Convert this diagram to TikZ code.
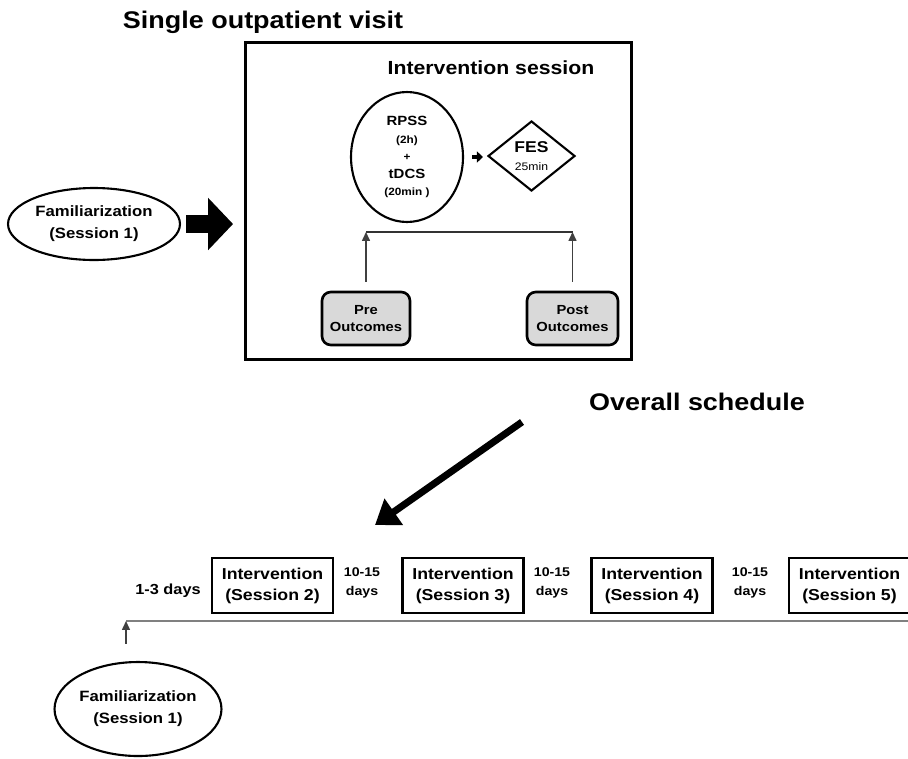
\documentclass[tikz,border=0pt]{standalone}
\usepackage{fontspec}
\setmainfont{Liberation Sans}[FakeStretch=1.12]
\usetikzlibrary{arrows.meta,shapes.geometric}

\begin{document}
\begin{tikzpicture}[
    x=0.02cm, y=-0.02cm,
    every node/.style={font=\bfseries, align=center, inner sep=0pt},
    heading/.style={font=\fontsize{13.7}{16}\selectfont\bfseries},
    famnode/.style={ellipse, draw, line width=1.2pt, font=\fontsize{8.5}{12.4}\selectfont\bfseries},
    outcome/.style={draw, line width=1.5pt, rounded corners=5pt, fill=outgray, minimum height=1.06cm, font=\fontsize{7.5}{10.2}\selectfont\bfseries},
    sessbox/.style={draw, line width=1.5pt, minimum width=2.42cm, minimum height=1.1cm, font=\fontsize{9}{12}\selectfont\bfseries},
    gaplbl/.style={font=\fontsize{7.2}{10.8}\selectfont\bfseries},
    thinarr/.style={-{Triangle[length=5pt, width=4.5pt]}, line width=0.7pt, black!75},
    fatarr/.style={-{Triangle[length=0.5cm, width=1.02cm]}, line width=0.36cm},
  ]
    \definecolor{outgray}{HTML}{D9D9D9}
    \useasboundingbox (0,0) rectangle (908,758);

    % single outpatient visit
    \node[heading] (visittitle) at (263,22) {Single outpatient visit};
    \node[draw, line width=1.7pt, minimum width=7.74cm, minimum height=6.36cm] (visit) at (438.5,201) {};
    \node[font=\fontsize{10.8}{13}\selectfont\bfseries] (sesstitle) at (491,68) {Intervention session};

    \node[ellipse, draw, line width=1.2pt, minimum width=2.24cm, minimum height=2.6cm, font=\fontsize{7.6}{10}\selectfont\bfseries] (rpss) at (407,157)
      {RPSS\\{\fontsize{6}{10}\selectfont (2h)}\\{\fontsize{6}{10}\selectfont +}\\tDCS\\{\fontsize{6}{10}\selectfont (20min )}};
    \node[diamond, draw, line width=1.2pt, minimum width=1.74cm, minimum height=1.4cm, font=\fontsize{8.9}{10}\selectfont\bfseries] (fes) at (531.5,156)
      {FES\\{\fontsize{6.2}{10}\selectfont\mdseries 25min}};
    \draw[-{Triangle[length=0.12cm, width=0.22cm]}, line width=2.2pt, shorten <=0.16cm, shorten >=0.08cm] (rpss.east) -- (rpss.east -| fes.west);

    \node[outcome, minimum width=1.76cm] (pre) at (366,318.5) {Pre\\Outcomes};
    \node[outcome, minimum width=1.82cm] (post) at (572.5,318.5) {Post\\Outcomes};

    % outcomes bracket
    \coordinate (bar) at (470,232);
    \draw[line width=0.7pt, black!80] (pre.north |- bar) -- (post.north |- bar);
    \draw[thinarr, shorten <=0.18cm] (pre.north) -- (pre.north |- bar);
    \draw[thinarr, shorten <=0.18cm] (post.north) -- (post.north |- bar);

    % familiarization before the visit
    \node[famnode, minimum width=3.44cm, minimum height=1.44cm] (fam1) at (94,224) {Familiarization\\(Session 1)};
    \draw[fatarr] ([xshift=0.1cm]fam1.east) -- ++(47,0);

    % overall schedule
    \node[heading] (schedtitle) at (697,402) {Overall schedule};
    \coordinate (diagtail) at (522,422);
    \coordinate (diaghead) at (375,525);
    \draw[-{Triangle[length=0.46cm, width=0.62cm]}, line width=0.14cm] (diagtail) -- (diaghead);

    % timeline
    \coordinate (tlstart) at (126,621);
    \coordinate (tlend) at (915,621);
    \draw[line width=1.2pt, black!50] (tlstart) -- (tlend);
    \node[famnode, minimum width=3.34cm, minimum height=1.88cm] (fam2) at (138,709) {Familiarization\\(Session 1)};
    \draw[thinarr, shorten <=0.34cm] (fam2.north -| tlstart) -- (tlstart);

    \node[font=\fontsize{8.3}{10}\selectfont\bfseries] (firstgap) at (168,591) {1-3 days};
    \node[sessbox] (s2) at (272.5,585.5) {Intervention\\(Session 2)};
    \node[gaplbl] (gap23) at (362,583) {10-15\\days};
    \node[sessbox] (s3) at (463,585.5) {Intervention\\(Session 3)};
    \node[gaplbl] (gap34) at (552,583) {10-15\\days};
    \node[sessbox] (s4) at (652,585.5) {Intervention\\(Session 4)};
    \node[gaplbl] (gap45) at (750,583) {10-15\\days};
    \node[sessbox] (s5) at (849.5,585.5) {Intervention\\(Session 5)};
  \end{tikzpicture}
\end{document}
